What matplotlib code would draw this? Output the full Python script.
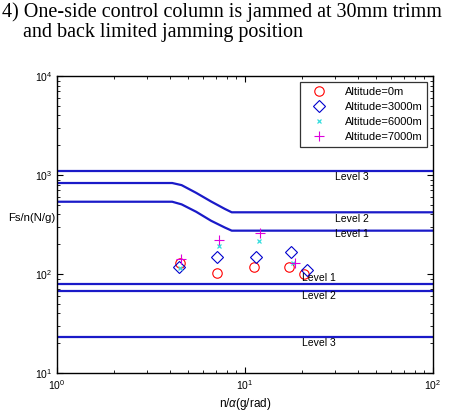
import matplotlib

matplotlib.use("Agg")
import matplotlib.pyplot as plt

BLUE = "#1a1ac8"

# boundary lines (Fs/n in N/g versus n/alpha in g/rad)
upper_x = [1.0, 4.1, 4.6, 5.5, 6.6, 7.8, 8.5, 100.0]
lev2_y = [830, 830, 790, 660, 540, 455, 420, 420]
lev1_y = [537, 537, 505, 425, 345, 295, 274, 274]
lev3_top = 1100
low_lev1 = 79
low_lev2 = 68
low_lev3 = 23.3

# test points
alt0_x = [4.51, 7.07, 11.2, 17.1, 20.7]
alt0_y = [128, 102, 117, 117, 100]
alt3000_x = [4.47, 7.12, 11.5, 17.5, 21.5]
alt3000_y = [118.5, 150, 150, 168, 111]
alt6000_x = [4.51, 7.3, 11.9, 18.1]
alt6000_y = [116, 193, 215, 129]
alt7000_x = [4.57, 7.27, 12.0, 18.5]
alt7000_y = [141, 220, 258, 128]

# level labels: (x, y, text)
labels = [
    (30, 965, "Level 3"),
    (30, 360, "Level 2"),
    (30, 253, "Level 1"),
    (20, 91, "Level 1"),
    (20, 60, "Level 2"),
    (20, 20.2, "Level 3"),
]

plt.rcParams.update({
    "font.family": ["Liberation Sans", "DejaVu Sans"],
    "font.size": 8,
    "mathtext.fontset": "custom",
    "mathtext.rm": "Liberation Sans",
    "mathtext.it": "Liberation Sans:italic",
})

fig = plt.figure(figsize=(4.5, 4.12), dpi=100)
ax = fig.add_axes([0.1267, 0.0947, 0.8355, 0.7208])

ax.plot(upper_x, lev2_y, color=BLUE, lw=1.6)
ax.plot(upper_x, lev1_y, color=BLUE, lw=1.6)
for yv in (lev3_top, low_lev1, low_lev2, low_lev3):
    ax.axhline(yv, color=BLUE, lw=1.6)

ax.plot(alt0_x, alt0_y, "o", ls="none", mfc="none", mec="red", ms=6.8, mew=0.8,
        label="Altitude=0m")
ax.plot(alt3000_x, alt3000_y, "D", ls="none", mfc="none", mec="#0000cc", ms=5.8,
        mew=0.8, label="Altitude=3000m")
ax.plot(alt6000_x, alt6000_y, "x", ls="none", color="#33dddd", ms=3.5, mew=0.9,
        label="Altitude=6000m")
ax.plot(alt7000_x, alt7000_y, "+", ls="none", color="#dd00dd", ms=7, mew=0.8,
        label="Altitude=7000m")

for x, y, t in labels:
    ax.text(x, y, t, ha="left", va="center", fontsize=7.5)

ax.set_xscale("log")
ax.set_yscale("log")
ax.set_xlim(1, 100)
ax.set_ylim(10, 10000)
ax.tick_params(which="both", direction="in", top=True, right=True, labelsize=7.5)
ax.tick_params(which="major", length=4)
ax.tick_params(which="minor", length=2)
for s in ax.spines.values():
    s.set_linewidth(1.0)

ax.set_xlabel(r"n/$\alpha$(g/rad)", fontsize=8.5, labelpad=3)
fig.text(8 / 450, 1 - 218 / 412, "Fs/n(N/g)", ha="left", va="center", fontsize=8.2)

leg = ax.legend(loc="upper right", fontsize=8, frameon=True, fancybox=False,
                edgecolor="black", borderpad=0.45, labelspacing=0.45,
                handletextpad=1.0, borderaxespad=0.5, handlelength=2.6)
leg.get_frame().set_linewidth(0.9)

fig.text(0.004, 1 - 16.7 / 412, "4) One-side control column is jammed at 30mm trimm",
         family="Liberation Serif", fontsize=14.5, ha="left", va="baseline")
fig.text(23 / 450, 1 - 37 / 412, "and back limited jamming position",
         family="Liberation Serif", fontsize=14.5, ha="left", va="baseline")

fig.savefig("out.png", dpi=100)
